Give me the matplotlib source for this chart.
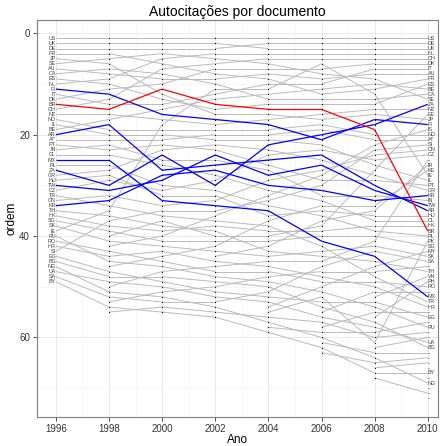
import matplotlib.pyplot as plt
from matplotlib.ticker import MultipleLocator

# ---- data: country order (rank 1 first) for each year ----
years = [1996, 1998, 2000, 2002, 2004, 2006, 2008, 2010]

order_1996 = ["US", "UK", "DE", "FR", "JP", "SE", "AU", "CA", "ES", "NL",
              "FI", "IT", "DK", "BR", "CH", "NZ", "NO", "IL", "BE", "AR",
              "AT", "PT", "IN", "CL", "MX", "PL", "ZA", "GR", "HU", "TW",
              "CZ", "TR", "CN", "KR", "TH", "HK", "SG", "SK", "IE", "RU",
              "RO", "HR", "SI", "EG", "BG", "NG", "UA", "SA", "BY"]

order_1998 = ["US", "UK", "DE", "FR", "SE", "JP", "CA", "AU", "NL", "ES",
              "DK", "FI", "CH", "IT", "BR", "NZ", "BE", "AR", "NO", "IL",
              "AT", "IN", "PT", "CL", "MX", "PL", "GR", "HU", "CZ", "ZA",
              "TW", "CN", "KR", "TR", "IE", "TH", "SI", "HK", "SG", "EE",
              "SK", "IS", "RO", "HR", "RU", "KE", "EG", "BG", "UA", "LT",
              "NG", "SA", "CO", "BY", "VE"]

order_2000 = ["US", "UK", "DE", "SE", "NL", "FR", "CH", "CA", "AU", "DK",
              "BR", "JP", "ES", "IT", "BE", "FI", "NZ", "IE", "NO", "IL",
              "AT", "PT", "GR", "ZA", "IN", "CL", "AR", "KR", "TW", "PL",
              "CZ", "HU", "MX", "CN", "SI", "TR", "EE", "TH", "HK", "IS",
              "SG", "SK", "HR", "KE", "RO", "RU", "LT", "BG", "EG", "UA",
              "CO", "NG", "SA", "VE", "BY"]

order_2002 = ["US", "UK", "DE", "NL", "SE", "CH", "DK", "FR", "AU", "CA",
              "IE", "IT", "BE", "BR", "ES", "JP", "FI", "NZ", "NO", "AT",
              "IL", "GR", "PT", "TW", "IN", "AR", "KR", "CL", "CZ", "ZA",
              "PL", "HU", "CN", "MX", "SI", "IS", "TR", "HK", "TH", "EE",
              "SG", "KE", "SK", "IR", "HR", "LT", "RO", "RU", "BG", "CO",
              "EG", "UA", "SA", "NG", "VE", "BY"]

order_2004 = ["US", "DE", "UK", "NL", "CH", "SE", "DK", "AU", "FR", "IT",
              "IE", "BE", "CA", "ES", "BR", "JP", "NZ", "FI", "NO", "AT",
              "IL", "ZA", "GR", "CZ", "AR", "PT", "IN", "TW", "CN", "KR",
              "CL", "IS", "SI", "PL", "MX", "HU", "KE", "TR", "HK", "EE",
              "SG", "IR", "TH", "SK", "LT", "HR", "RO", "CO", "RU", "BG",
              "SA", "EG", "UA", "MY", "PK", "VE", "NG", "UY", "BY"]

order_2006 = ["US", "DE", "UK", "NL", "CH", "IE", "DK", "SE", "AU", "IT",
              "BE", "FR", "CA", "ES", "BR", "NZ", "JP", "NO", "AT", "ZA",
              "FI", "IL", "CZ", "AR", "GR", "TW", "CN", "IS", "PT", "SI",
              "KR", "IN", "CL", "KE", "HU", "PL", "IR", "EE", "HK", "SG",
              "MX", "TR", "SK", "TH", "LT", "SA", "CO", "HR", "RO", "MY",
              "RU", "PK", "EG", "BG", "RS", "UA", "VE", "LV", "UY", "NG",
              "CU", "BY", "PE"]

order_2008 = ["US", "DE", "UK", "NL", "CH", "DK", "IT", "AU", "SE", "BE",
              "FR", "IE", "CA", "ES", "NZ", "JP", "FI", "ZA", "BR", "NO",
              "AT", "IS", "SI", "CN", "CZ", "IL", "EE", "GR", "PT", "AR",
              "TW", "IN", "KR", "KE", "IR", "HU", "CL", "HK", "PL", "SG",
              "LT", "SK", "SA", "MX", "TH", "MY", "CO", "TR", "RO", "HR",
              "RS", "VN", "EG", "RU", "LV", "PH", "BG", "UA", "UY", "VE",
              "PK", "TN", "CU", "NG", "PE", "MA", "BY", "KW"]

order_2010 = ["US", "DE", "UK", "NL", "CH", "DK", "IT", "AU", "FR", "ES",
              "BE", "CA", "SE", "ZA", "NZ", "EE", "JP", "FI", "IS", "NO",
              "AT", "SI", "CN", "CZ", "LT", "IR", "KE", "IE", "IL", "PT",
              "GR", "KR", "IN", "TW", "AR", "HU", "CL", "HK", "BR", "PL",
              "PK", "SG", "MY", "SK", "SA", "CO", "TH", "VN", "PH", "RO",
              "RS", "MX", "TR", "HR", "LV", "EG", "UY", "RU", "VE", "TN",
              "UA", "BG", "CU", "PE", "MA", "JO", "BY", "DZ", "NG", "LB",
              "KW", "BD"]

orders = [order_1996, order_1998, order_2000, order_2002,
          order_2004, order_2006, order_2008, order_2010]

blue_countries = ["FI", "AR", "MX", "ZA", "TW", "KR"]
red_countries = ["BR"]
# points drawn at the end without a visible code
unlabelled = ["LT", "CO", "RS", "LV", "UY", "VE", "TN", "CU", "PE", "MA",
              "JO", "DZ", "LB", "KW", "BD"]

# ---- rank lookup per country ----
ranks = {}
for yr, order in zip(years, orders):
    for i, code in enumerate(order):
        ranks.setdefault(code, {})[yr] = i + 1

plt.rcParams['font.family'] = ['Liberation Sans', 'DejaVu Sans']
fig = plt.figure(figsize=(4.45, 4.46), dpi=100)
ax = fig.add_axes([0.083, 0.065, 0.901, 0.89])

def draw_country(code, color, lw, z):
    r = ranks[code]
    for y0, y1 in zip(years[:-1], years[1:]):
        if y0 in r and y1 in r:
            ax.plot([y0, y1], [r[y0], r[y1]], color=color, lw=lw,
                    zorder=z, solid_capstyle='butt')

for code in ranks:
    if code not in blue_countries and code not in red_countries:
        draw_country(code, '#bababa', 0.7, 2)
for code in blue_countries:
    draw_country(code, '#0000ff', 0.9, 3)
for code in red_countries:
    draw_country(code, '#ff0000', 0.9, 3)

# points at every year
for yr, order in zip(years[1:-1], orders[1:-1]):
    ax.scatter([yr] * len(order), range(1, len(order) + 1), s=0.7,
               color='black', linewidths=0, zorder=4)

# country codes at both ends
for i, code in enumerate(order_1996):
    ax.text(1996, i + 1, code, fontsize=3.9, color='#404040',
            ha='right', va='center', zorder=5)
for i, code in enumerate(order_2010):
    if code in unlabelled:
        ax.plot([2010, 2010.06], [i + 1, i + 1], color='#404040',
                lw=0.4, zorder=5)
        continue
    ax.text(2010, i + 1, code, fontsize=3.9, color='#404040',
            ha='left', va='center', zorder=5)

ax.set_xlim(1995.29, 2010.38)
ax.set_ylim(75.7, -2.62)
ax.set_xticks(years)
ax.set_yticks([0, 20, 40, 60])
ax.xaxis.set_minor_locator(MultipleLocator(1))
ax.yaxis.set_minor_locator(MultipleLocator(10))
ax.grid(True, which='major', color='#e5e5e5', lw=0.6, zorder=0)
ax.grid(True, which='minor', color='#f2f2f2', lw=0.4, zorder=0)
ax.set_axisbelow(True)
ax.tick_params(which='minor', length=0)
ax.tick_params(which='major', length=3, width=0.6, color='#333333',
               labelsize=7, labelcolor='#333333', pad=2)
for s in ax.spines.values():
    s.set_color('#7f7f7f')
    s.set_linewidth(0.8)

ax.set_title('Autocitações por documento', fontsize=10, pad=3)
ax.set_xlabel('Ano', fontsize=8.5, labelpad=0)
ax.set_ylabel('ordem', fontsize=8.5, labelpad=1)

fig.savefig('out.png', dpi=100)
